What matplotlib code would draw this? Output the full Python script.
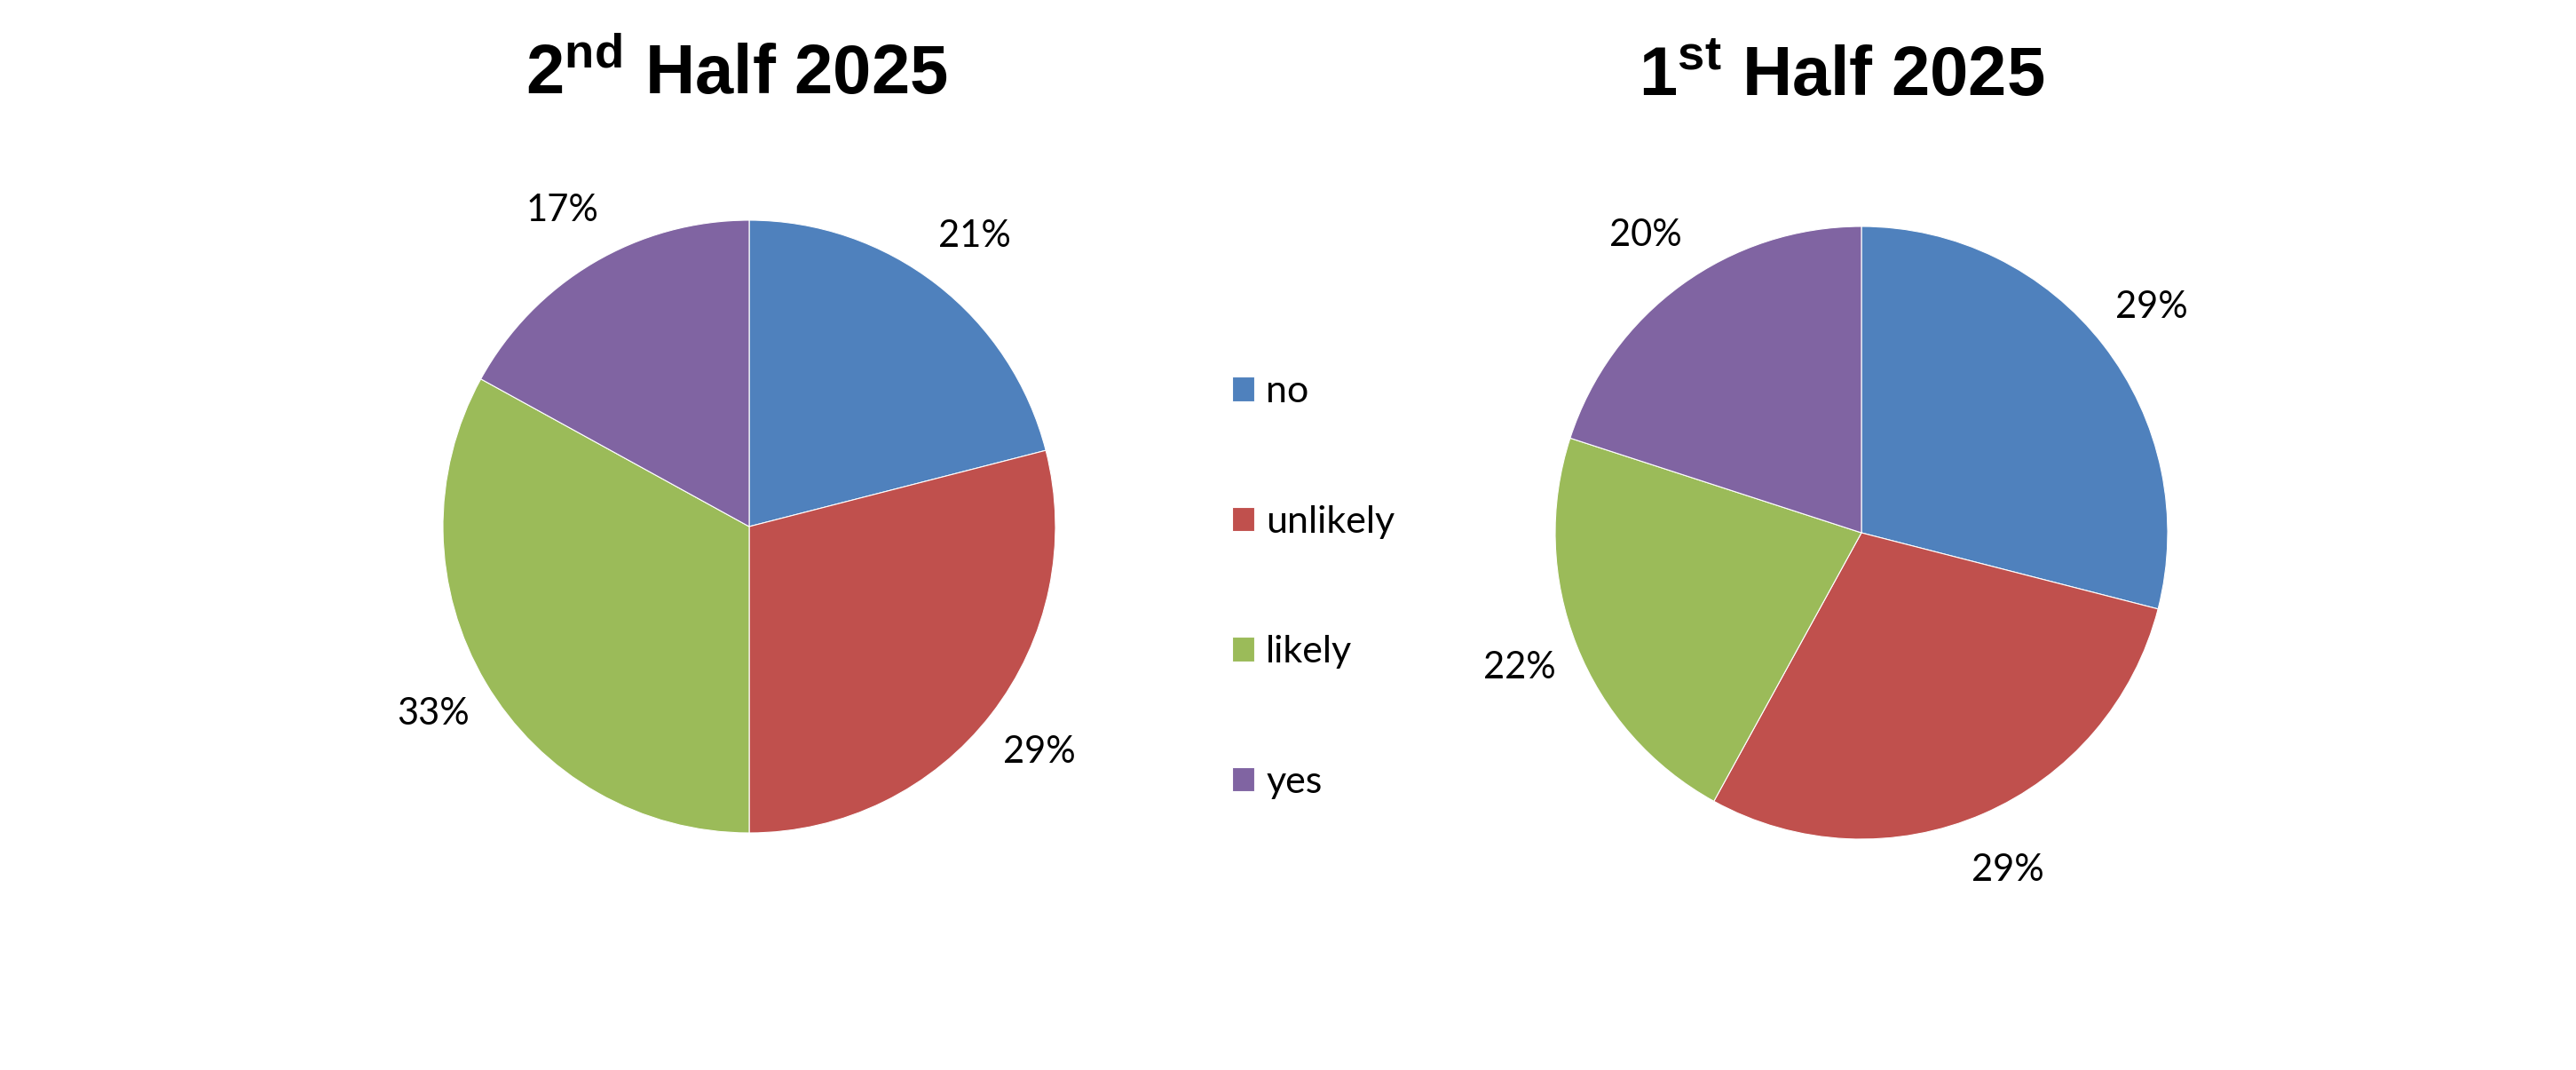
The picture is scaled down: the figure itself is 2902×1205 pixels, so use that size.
import matplotlib
matplotlib.use("Agg")
import matplotlib.pyplot as plt

# data
categories = ["no", "unlikely", "likely", "yes"]
second_half = [21, 29, 33, 17]
first_half = [29, 29, 22, 20]
colors = ["#4F81BD", "#C0504D", "#9BBB59", "#8064A2"]

plt.rcParams["mathtext.fontset"] = "custom"
plt.rcParams["mathtext.rm"] = "Liberation Sans:bold"
plt.rcParams["mathtext.bf"] = "Liberation Sans:bold"

W, H = 2902, 1205
fig = plt.figure(figsize=(W / 100, H / 100), dpi=100)

label_font = dict(family="Lato", size=30, color="black")


def add_pie(cx, cy, r, values, title, title_x, title_y):
    # axes box sized in pixels so the pie lands where it sits in the reference
    ax = fig.add_axes([(cx - r) / W, (H - cy - r) / H, 2 * r / W, 2 * r / H])
    wedges, texts, autotexts = ax.pie(
        values, colors=colors, startangle=90, counterclock=False,
        autopct="%1.0f%%", pctdistance=1.2,
        wedgeprops=dict(edgecolor="white", linewidth=0.8),
        textprops=label_font)
    ax.set_xlim(-1, 1)
    ax.set_ylim(-1, 1)
    ax.set_aspect("equal")
    ax.axis("off")
    fig.text(title_x / W, 1 - title_y / H, title, ha="center", va="baseline",
             family="Liberation Sans", weight="bold", size=56)
    return wedges


wedges = add_pie(844, 593, 345, second_half, r"$\mathbf{2^{nd}}$ Half 2025", 830, 106)
add_pie(2097, 600, 345, first_half, r"$\mathbf{1^{st}}$ Half 2025", 2075, 108)

fig.legend(wedges, categories, loc="center left",
           bbox_to_anchor=(1366 / W, 1 - 661 / H), frameon=False,
           prop=dict(family="Lato", size=31), borderpad=0,
           handlelength=0.6, handleheight=0.6, handletextpad=0.3,
           labelspacing=2.52)

fig.savefig("out.png", dpi=100, facecolor="white")
